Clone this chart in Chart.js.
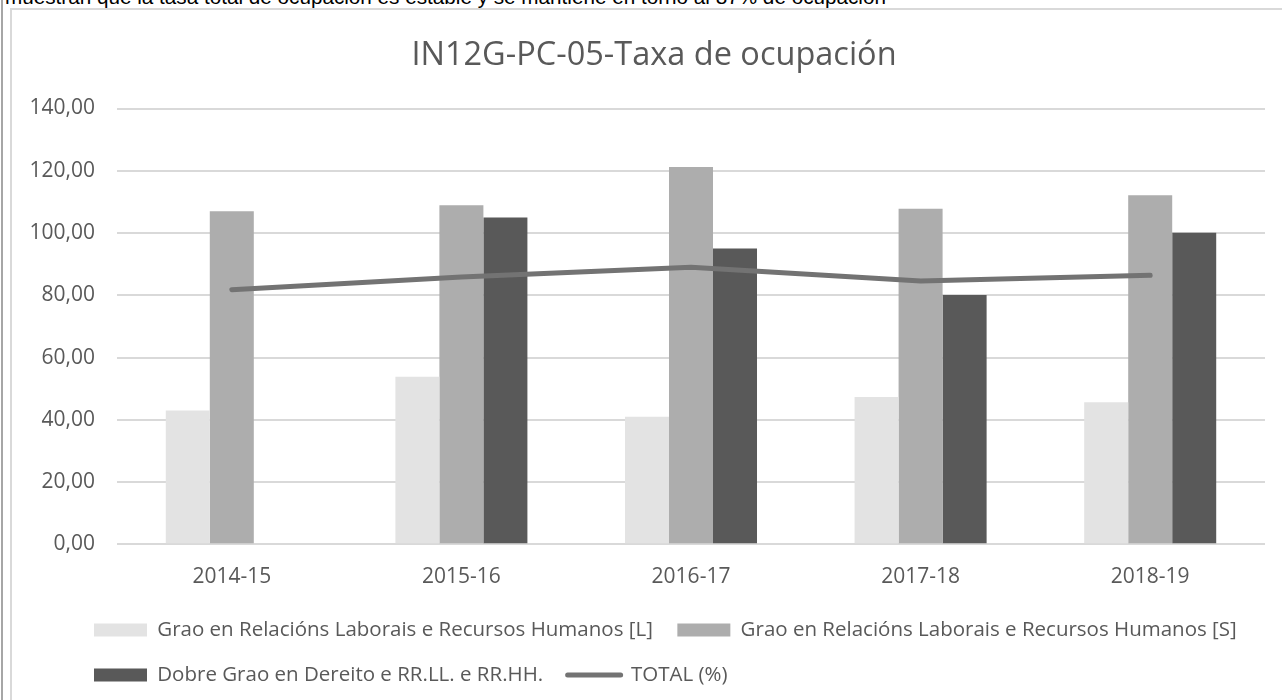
<!DOCTYPE html>
<html>
<head>
<meta charset="utf-8">
<script src="https://cdn.jsdelivr.net/npm/chart.js@4"></script>
<style>
    html, body { margin: 0; padding: 0; background: #fff; overflow: hidden; }
    body { width: 1282px; height: 700px; position: relative; }
    .pageLine { position: absolute; left: 1px; top: 0; width: 2px; height: 700px; background: #a6a6a6; }
    .docText { position: absolute; left: 5px; top: -15px; font: 20.7px "Liberation Sans", Arial, sans-serif; color: #000; white-space: nowrap; }
    .chartBox { position: absolute; left: 10px; top: 8px; width: 1284px; height: 720px; border: 2px solid #d9d9d9; }
    .chartWrap { position: absolute; left: 0; top: 0; width: 1284px; height: 720px; }
</style>
</head>
<body>
<div class="pageLine"></div>
<div class="docText">muestran que la tasa total de ocupación es estable y se mantiene en torno al 87% de ocupación</div>
<div class="chartBox">
    <div class="chartWrap"><canvas id="combinedChart"></canvas></div>
</div>
<script>
const categories = ['2014-15', '2015-16', '2016-17', '2017-18', '2018-19'];
const seriesL = [43.0, 53.8, 41.0, 47.3, 45.6];
const seriesS = [107.0, 108.9, 121.2, 107.8, 112.1];
const seriesDobre = [null, 105.0, 95.0, 80.1, 100.1];
const seriesTotal = [81.8, 85.9, 89.0, 84.6, 86.4];
const yTickLabels = ['0,00', '20,00', '40,00', '60,00', '80,00', '100,00', '120,00', '140,00'];

const textColor = '#595959';
const font = 'Open Sans';

// move the legend rows to start where the original ones do
const legendShift = {
    id: 'legendShift',
    afterLayout(chart) {
        chart.legend.left = 57.5;
    }
};

const ctx = document.getElementById('combinedChart').getContext('2d');
const combinedChart = new Chart(ctx, {
    type: 'bar',
    data: {
        labels: categories,
        datasets: [
            {
                label: 'Grao en Relacións Laborais e Recursos Humanos [L]',
                data: seriesL,
                backgroundColor: '#e3e3e3',
                borderWidth: 0,
                order: 1
            },
            {
                label: 'Grao en Relacións Laborais e Recursos Humanos [S]',
                data: seriesS,
                backgroundColor: '#adadad',
                borderWidth: 0,
                order: 1
            },
            {
                label: 'Dobre Grao en Dereito e RR.LL. e RR.HH.',
                data: seriesDobre,
                backgroundColor: '#595959',
                borderWidth: 0,
                order: 1
            },
            {
                type: 'line',
                label: 'TOTAL (%)',
                data: seriesTotal,
                borderColor: '#737373',
                backgroundColor: '#737373',
                borderWidth: 5,
                borderCapStyle: 'round',
                borderJoinStyle: 'round',
                pointRadius: 0,
                tension: 0,
                order: 0
            }
        ]
    },
    options: {
        responsive: true,
        maintainAspectRatio: false,
        animation: false,
        categoryPercentage: 0.575,
        barPercentage: 1,
        layout: { padding: { left: 0, right: 0, top: 0, bottom: 34.75 } },
        plugins: {
            tooltip: { enabled: false },
            title: {
                display: true,
                text: 'IN12G-PC-05-Taxa de ocupación',
                color: textColor,
                font: { family: font, size: 32.5, weight: 'normal' },
                padding: { top: 26, bottom: 33.5 }
            },
            legend: {
                position: 'bottom',
                align: 'start',
                labels: {
                    color: textColor,
                    font: { family: font, size: 20.5 },
                    usePointStyle: true,
                    pointStyleWidth: 53,
                    boxHeight: 13,
                    padding: 24.5,
                    sort: (a, b) => a.datasetIndex - b.datasetIndex,
                    generateLabels(chart) {
                        const items = Chart.defaults.plugins.legend.labels.generateLabels(chart);
                        items.forEach(item => {
                            const ds = chart.data.datasets[item.datasetIndex];
                            item.pointStyle = ds.type === 'line' ? 'line' : 'rect';
                            if (ds.type === 'line') {
                                item.lineCap = 'round';
                            }
                        });
                        return items;
                    }
                }
            }
        },
        scales: {
            x: {
                grid: { display: false, drawTicks: false },
                border: { display: false },
                ticks: {
                    color: textColor,
                    font: { family: font, size: 21 },
                    padding: 20
                },
                afterFit(scale) {
                    scale.height = 50.95;
                }
            },
            y: {
                min: 0,
                max: 140,
                grid: { color: '#d9d9d9', lineWidth: 2, drawTicks: false },
                border: { display: false },
                ticks: {
                    stepSize: 20,
                    color: textColor,
                    font: { family: font, size: 21 },
                    padding: 22,
                    callback: (value, index) => yTickLabels[index]
                },
                afterFit(scale) {
                    scale.width = 105;
                }
            },
            // empty axis on the right, only keeps space between plot and chart edge
            yRight: {
                position: 'right',
                grid: { display: false, drawTicks: false },
                border: { display: false },
                ticks: { display: false },
                afterFit(scale) {
                    scale.width = 31;
                }
            }
        }
    },
    plugins: [legendShift]
});
</script>
</body>
</html>
